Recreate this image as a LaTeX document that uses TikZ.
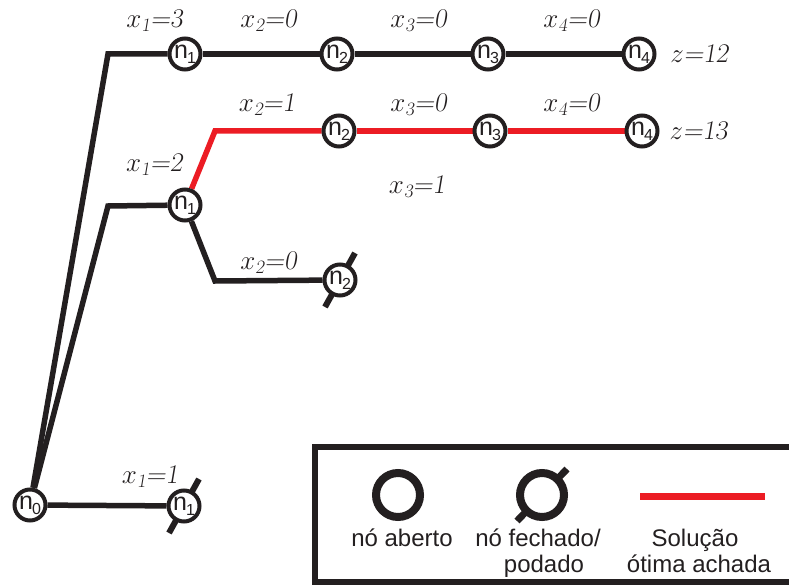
\RequirePackage{fix-cm}
\documentclass[tikz,border=0pt]{standalone}
\usepackage{amsmath}
\usepackage{fontspec}
\newfontfamily\arialf{Liberation Sans}
\usetikzlibrary{calc,backgrounds}
\definecolor{ired}{HTML}{EC1C24}
\definecolor{ink}{HTML}{231F20}
\newcommand\nlab[1]{{\arialf\fontsize{25}{25}\selectfont n\kern-1pt\raisebox{-5pt}{\fontsize{16}{16}\selectfont #1}}}
\newcommand\xlab[2]{$x_{\textsl{#1}}$\textsl{=#2}}
\tikzset{
  tn/.style={circle, draw=ink, line width=4pt, fill=white, minimum size=31pt, inner sep=0pt, text=ink},
  edgeline/.style={line width=5.5pt, draw=ink},
  optline/.style={line width=5.5pt, draw=ired},
  cutline/.style={line width=6pt, draw=ink},
  lab/.style={font=\fontsize{27}{27}\selectfont, text=ink, inner sep=0pt},
  legc/.style={circle, draw=ink, line width=8pt, fill=white, minimum size=44pt, inner sep=0pt},
  legt/.style={font=\arialf\fontsize{24}{26}\selectfont, text=ink, inner sep=0pt, anchor=base}
}
\begin{document}
\begin{tikzpicture}[x=1pt,y=-1pt]
\useasboundingbox (0,0) rectangle (789,585);
% tree nodes
\node[tn] (n0) at (30,505) {\nlab0};
\node[tn] (a1) at (185,54) {\nlab1};
\node[tn] (a2) at (337,54) {\nlab2};
\node[tn] (a3) at (488,54) {\nlab3};
\node[tn] (a4) at (639,54) {\nlab4};
\node[tn] (b1) at (185,205) {\nlab1};
\node[tn] (b2) at (339,131) {\nlab2};
\node[tn] (b3) at (490,131) {\nlab3};
\node[tn] (b4) at (642,131) {\nlab4};
\node[tn] (c2) at (340,280) {\nlab2};
\node[tn] (d1) at (184,506) {\nlab1};
\coordinate (ka) at (108,54);
\coordinate (kb) at (108,206);
\coordinate (kr) at (215,131);
\coordinate (kc) at (215,281);
% legend nodes
\node[legc] (lo) at (398,495) {};
\node[legc] (lp) at (542,495) {};
\coordinate (ra) at (640,496);
\coordinate (rb) at (765,496);
\begin{pgfonlayer}{background}
\draw[edgeline] (n0) -- (ka) -- (a1);
\draw[edgeline] (a1) -- (a2);
\draw[edgeline] (a2) -- (a3);
\draw[edgeline] (a3) -- (a4);
\draw[edgeline] (n0) -- (kb) -- (b1);
\draw[optline] (b1) -- (kr) -- (b2);
\draw[optline] (b2) -- (b3);
\draw[optline] (b3) -- (b4);
\draw[edgeline] (b1) -- (kc) -- (c2);
\draw[edgeline] (n0) -- (d1);
\draw[cutline] ($(c2)+(15,-27)$) -- ($(c2)+(-15,27)$);
\draw[cutline] ($(d1)+(15,-27)$) -- ($(d1)+(-15,27)$);
\draw[cutline, line width=7pt] ($(lp)+(25,-26)$) -- ($(lp)+(-25,26)$);
\end{pgfonlayer}
% labels
\node[lab] (l1) at (155,21) {\xlab13};
\node[lab] (l2) at (269,21) {\xlab20};
\node[lab] (l3) at (419,21) {\xlab30};
\node[lab] (l4) at (572,21) {\xlab40};
\node[lab] (z1) at (700,54) {$z$\textsl{=12}};
\node[lab] (m2) at (267,105) {\xlab21};
\node[lab] (m3) at (419,105) {\xlab30};
\node[lab] (m4) at (572,105) {\xlab40};
\node[lab] (z2) at (699,131) {$z$\textsl{=13}};
\node[lab] (p1) at (155,165) {\xlab12};
\node[lab] (p3) at (417,187) {\xlab31};
\node[lab] (q2) at (269,263) {\xlab20};
\node[lab] (r1) at (150,477) {\xlab11};
% legend
\draw[line width=6.5pt, draw=ink] (315,447) rectangle (792,582);
\draw[line width=7pt, draw=ired] (ra) -- (rb);
\node[legt] (t1) at (402,546) {nó aberto};
\node[legt] (t2) at (538,546) {nó fechado/};
\node[legt] (t3) at (544,572) {podado};
\node[legt] (t4) at (695,546) {Solução};
\node[legt] (t5) at (699,572) {ótima achada};
\end{tikzpicture}
\end{document}
